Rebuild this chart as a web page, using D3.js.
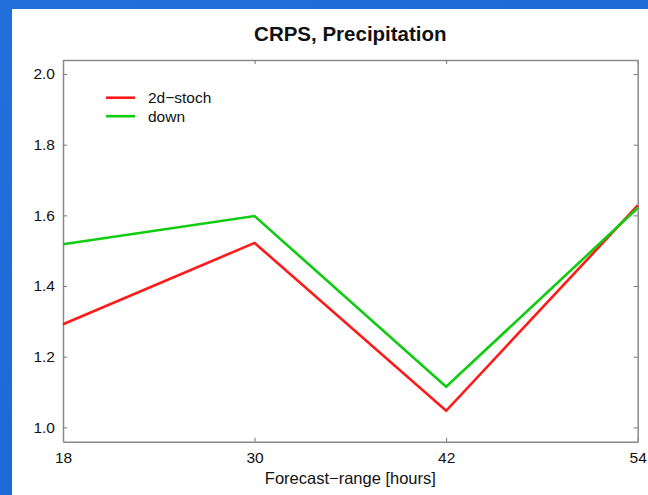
<!DOCTYPE html>
<html>
<head>
<meta charset="utf-8">
<script src="https://cdn.jsdelivr.net/npm/d3@7"></script>
<style>
  body { margin: 0; padding: 0; }
  svg { display: block; }
</style>
</head>
<body>
<div id="chart"></div>
<script>
// Data
var hours = [18, 30, 42, 54];
var stoch = [1.292, 1.522, 1.047, 1.628];
var down = [1.518, 1.598, 1.115, 1.621];
var yTicks = [1.0, 1.2, 1.4, 1.6, 1.8, 2.0];
var seriesNames = ["2d\u2212stoch", "down"];
var seriesColors = ["#ff1a1a", "#10cc10"];

var W = 648, H = 495;
var margin = { top: 60, right: 10, bottom: 53, left: 63 },
  width = 637.7 - margin.left,
  height = 441.7 - margin.top;

var svg = d3.select("#chart")
  .append("svg")
  .attr("width", W)
  .attr("height", H);

// Blue backdrop and white panel
var grad = svg.append("defs").append("linearGradient")
  .attr("id", "bg").attr("x1", 0).attr("y1", 0).attr("x2", 1).attr("y2", 1);
grad.append("stop").attr("offset", "0%").attr("stop-color", "#2270dc");
grad.append("stop").attr("offset", "100%").attr("stop-color", "#1763d2");
svg.append("rect").attr("width", W).attr("height", H).attr("fill", "url(#bg)");
svg.append("rect").attr("x", 12).attr("y", 9).attr("width", W - 12).attr("height", H - 9)
  .attr("fill", "#ffffff");

var g = svg.append("g")
  .attr("transform", "translate(" + margin.left + "," + margin.top + ")");

var x = d3.scaleLinear().domain([18, 54]).range([0, width]);
var y = d3.scaleLinear().domain([0.9595, 2.0396]).range([height, 0]);

var font = "'Liberation Sans', Arial, sans-serif";

// Axes with inward ticks on all four sides
g.append("g")
  .attr("transform", "translate(0," + height + ")")
  .call(d3.axisBottom(x).tickValues(hours).tickSizeInner(-4).tickSizeOuter(0).tickPadding(10));
g.append("g")
  .call(d3.axisTop(x).tickValues(hours).tickSizeInner(-4).tickSizeOuter(0).tickFormat(""));
g.append("g")
  .call(d3.axisLeft(y).tickValues(yTicks).tickFormat(d3.format(".1f"))
    .tickSizeInner(-4).tickSizeOuter(0).tickPadding(8));
g.append("g")
  .attr("transform", "translate(" + width + ",0)")
  .call(d3.axisRight(y).tickValues(yTicks).tickSizeInner(-4).tickSizeOuter(0).tickFormat(""));

g.selectAll(".domain").attr("stroke", "#8a8a8a").attr("stroke-width", 1.5);
g.selectAll(".tick line").attr("stroke", "#777");
g.selectAll(".tick text")
  .style("font-family", font)
  .style("font-size", "15.5px")
  .attr("fill", "#111");

// Lines
var line = d3.line()
  .x(function (d, i) { return x(hours[i]); })
  .y(function (d) { return y(d); });

[stoch, down].forEach(function (s, i) {
  g.append("path")
    .datum(s)
    .attr("fill", "none")
    .attr("stroke", seriesColors[i])
    .attr("stroke-width", 2.6)
    .attr("stroke-linejoin", "miter")
    .attr("d", line);
});

// Legend
seriesNames.forEach(function (name, i) {
  var ly = 97.7 + i * 18.5;
  svg.append("line")
    .attr("x1", 106).attr("x2", 135)
    .attr("y1", ly).attr("y2", ly)
    .attr("stroke", seriesColors[i])
    .attr("stroke-width", 2.6);
  svg.append("text")
    .attr("x", 148).attr("y", ly + 5.5)
    .style("font-family", font)
    .style("font-size", "15.5px")
    .attr("fill", "#111")
    .text(name);
});

// Title and axis label
svg.append("text")
  .attr("x", margin.left + width / 2)
  .attr("y", 41)
  .attr("text-anchor", "middle")
  .style("font-family", font)
  .style("font-size", "20.5px")
  .style("font-weight", "bold")
  .attr("fill", "#111")
  .text("CRPS, Precipitation");

svg.append("text")
  .attr("x", margin.left + width / 2)
  .attr("y", 484)
  .attr("text-anchor", "middle")
  .style("font-family", font)
  .style("font-size", "16.5px")
  .attr("fill", "#111")
  .text("Forecast\u2212range [hours]");
</script>
</body>
</html>
